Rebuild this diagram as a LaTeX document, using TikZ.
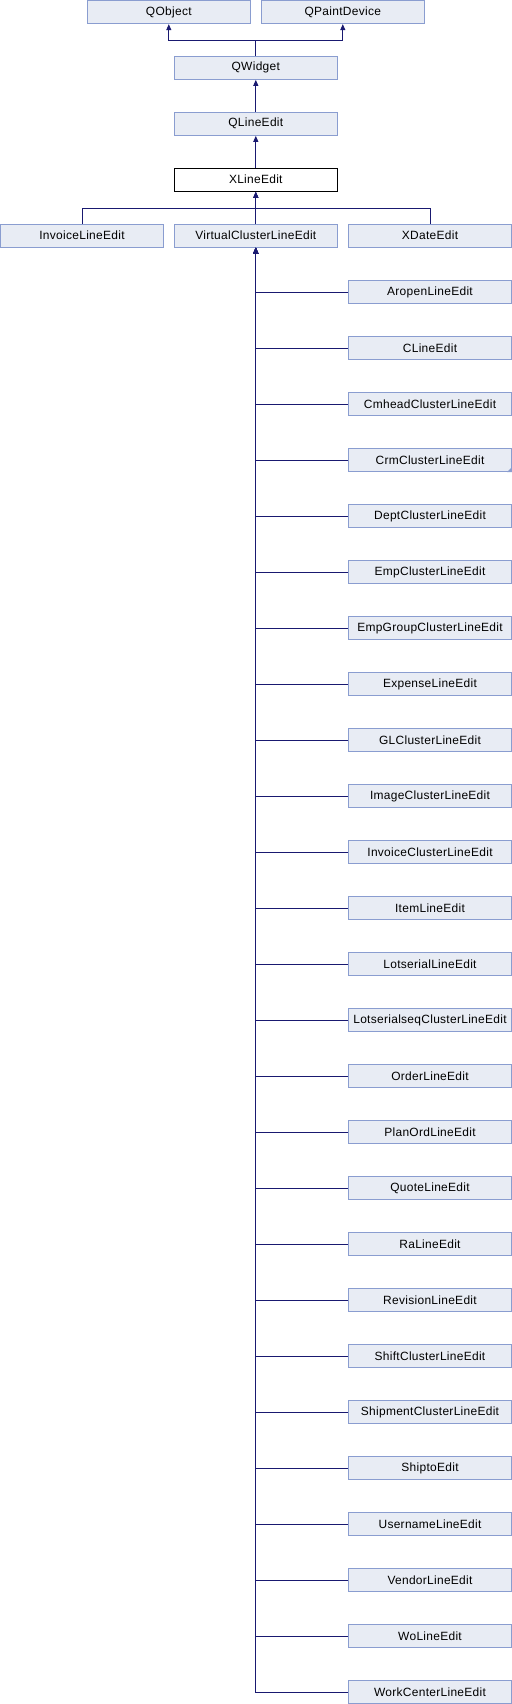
\documentclass[tikz,border=0pt]{standalone}
\usepackage{fontspec}
\setmainfont[LetterSpace=2.5]{Liberation Sans}
\usetikzlibrary{arrows.meta}
\definecolor{boxfill}{HTML}{E8ECF4}
\definecolor{boxline}{HTML}{8A9DD0}
\definecolor{edgecol}{HTML}{191970}
\tikzset{
  cls/.style={draw=boxline, fill=boxfill, line width=1bp, minimum width=163bp, minimum height=23.3bp, inner sep=0pt, font=\fontsize{12}{14}\selectfont, anchor=center},
  cur/.style={cls, draw=black, fill=white},
  inh/.style={draw=edgecol, line width=1bp, -{Triangle[length=6bp,width=5bp]}},
}
\begin{document}
\begin{tikzpicture}[x=1bp,y=-1bp]
\useasboundingbox (0,0) rectangle (512,1704);
\node[cls] (qobject) at (168.8,12) {QObject};
\node[cls] (qpaint) at (342.8,12) {QPaintDevice};
\node[cls] (qwidget) at (255.8,67.7) {QWidget};
\node[cls] (qlineedit) at (255.8,123.7) {QLineEdit};
\node[cur] (xlineedit) at (255.8,179.7) {XLineEdit};
\node[cls] (invoice) at (82,235.7) {InvoiceLineEdit};
\node[cls] (virtual) at (255.8,235.7) {VirtualClusterLineEdit};
\node[cls] (xdate) at (430,235.7) {XDateEdit};
\coordinate (j1) at (255.8,40.7);
\coordinate (j2) at (255.8,208.7);
\draw[inh] (qwidget.north) -- (j1) -| (qobject.south);
\draw[inh] (qwidget.north) -- (j1) -| (qpaint.south);
\draw[inh] (qlineedit.north) -- (qwidget.south);
\draw[inh] (xlineedit.north) -- (qlineedit.south);
\draw[inh] (invoice.north) |- (j2) -- (xlineedit.south);
\draw[inh] (virtual.north) -- (xlineedit.south);
\draw[inh] (xdate.north) |- (j2) -- (xlineedit.south);
\foreach \name [count=\i from 0] in {AropenLineEdit,CLineEdit,CmheadClusterLineEdit,CrmClusterLineEdit,DeptClusterLineEdit,EmpClusterLineEdit,EmpGroupClusterLineEdit,ExpenseLineEdit,GLClusterLineEdit,ImageClusterLineEdit,InvoiceClusterLineEdit,ItemLineEdit,LotserialLineEdit,LotserialseqClusterLineEdit,OrderLineEdit,PlanOrdLineEdit,QuoteLineEdit,RaLineEdit,RevisionLineEdit,ShiftClusterLineEdit,ShipmentClusterLineEdit,ShiptoEdit,UsernameLineEdit,VendorLineEdit,WoLineEdit,WorkCenterLineEdit}{
  \node[cls] (c\i) at (430,292+56*\i) {\name};
  \draw[inh] (c\i.west) -| (virtual.south);
}
\fill[boxline] (c3.south east) -- ++(-5,0) -- ++(5,-5) -- cycle;
\end{tikzpicture}
\end{document}
